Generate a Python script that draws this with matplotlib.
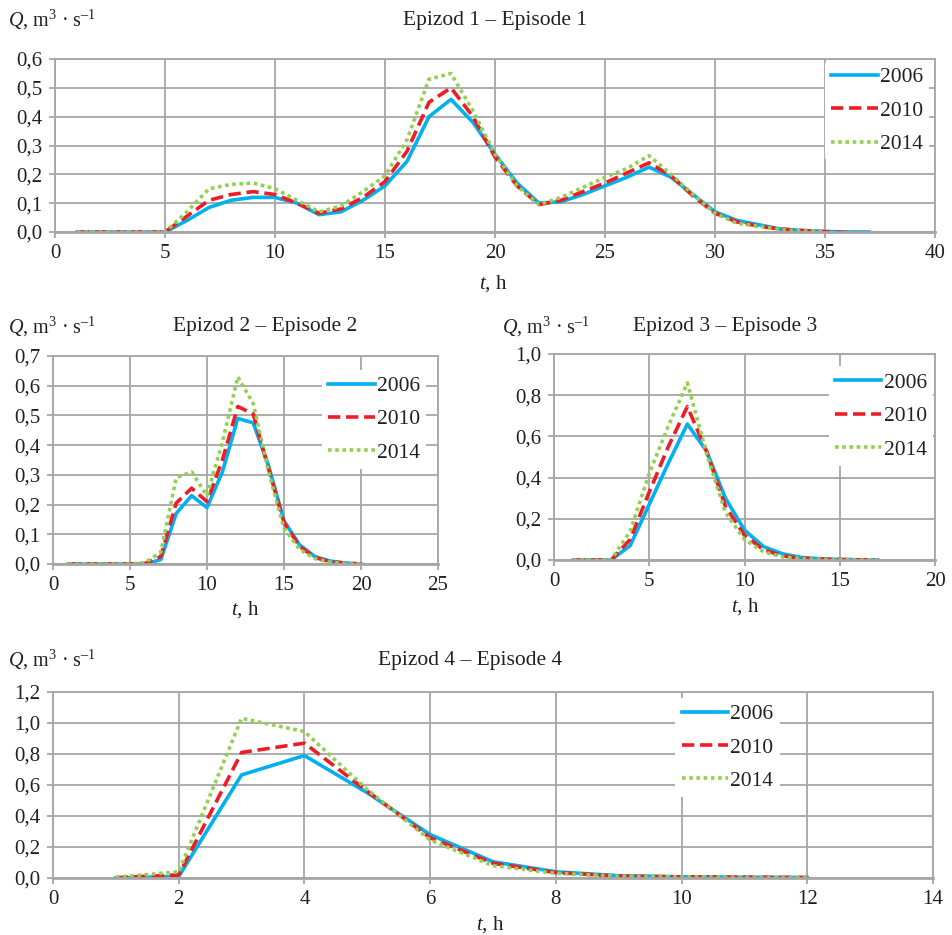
import matplotlib
matplotlib.use('Agg')
from matplotlib import pyplot as plt
import numpy as np

# Data
years = ['2006', '2010', '2014']

# Episode 1
ep1_t = list(range(1, 38))
ep1_2006 = [0, 0, 0, 0, 0, 0.04, 0.085, 0.11, 0.12, 0.12, 0.10, 0.06, 0.07, 0.11, 0.16,
            0.245, 0.40, 0.46, 0.38, 0.27, 0.17, 0.10, 0.105, 0.13, 0.16, 0.19, 0.225,
            0.19, 0.13, 0.07, 0.04, 0.025, 0.01, 0.005, 0.002, 0.0, 0.0]
ep1_2010 = [0, 0, 0, 0, 0, 0.055, 0.11, 0.13, 0.14, 0.13, 0.10, 0.065, 0.08, 0.12, 0.175,
            0.28, 0.45, 0.50, 0.40, 0.26, 0.16, 0.095, 0.11, 0.14, 0.17, 0.205, 0.24,
            0.195, 0.125, 0.065, 0.035, 0.02, 0.01, 0.005, 0.001, -0.002, -0.003]
ep1_2014 = [0, 0, 0, 0, 0, 0.07, 0.15, 0.165, 0.17, 0.15, 0.11, 0.07, 0.09, 0.14, 0.195,
            0.32, 0.53, 0.55, 0.42, 0.27, 0.16, 0.095, 0.12, 0.155, 0.19, 0.22, 0.265,
            0.20, 0.13, 0.065, 0.03, 0.02, 0.008, 0.003, 0.002]

# Episode 2
ep2_t = list(range(1, 21))
ep2_2006 = [0, 0, 0, 0, 0, 0, 0.015, 0.17, 0.23, 0.19, 0.31, 0.49, 0.475, 0.33, 0.145,
            0.065, 0.025, 0.01, 0.003, 0.0]
ep2_2010 = [0, 0, 0, 0, 0, 0.002, 0.025, 0.205, 0.255, 0.21, 0.35, 0.53, 0.505, 0.32, 0.14,
            0.06, 0.022, 0.008, 0.003, 0.0]
ep2_2014 = [0, 0, 0, 0, 0, 0.005, 0.04, 0.29, 0.31, 0.23, 0.41, 0.63, 0.54, 0.31, 0.12,
            0.05, 0.018, 0.006, 0.002, 0.0]

# Episode 3
ep3_t = list(range(1, 18))
ep3_2006 = [0, 0, 0, 0.07, 0.27, 0.47, 0.66, 0.53, 0.30, 0.145, 0.065, 0.03, 0.012, 0.006,
            0.003, 0.001, 0.0]
ep3_2010 = [0, 0, 0, 0.10, 0.33, 0.55, 0.745, 0.53, 0.26, 0.12, 0.05, 0.02, 0.008, 0.004,
            0.002, 0.001, 0.0]
ep3_2014 = [0, 0, 0, 0.14, 0.42, 0.65, 0.86, 0.52, 0.23, 0.10, 0.04, 0.015, 0.006, 0.003,
            0.001, 0.0, 0.0]

# Episode 4
ep4_t = list(range(1, 13))
ep4_2006 = [0.0, 0.01, 0.665, 0.79, 0.55, 0.28, 0.105, 0.04, 0.015, 0.008, 0.005, 0.003]
ep4_2010 = [0.002, 0.02, 0.81, 0.87, 0.56, 0.26, 0.095, 0.035, 0.012, 0.007, 0.005, 0.003]
ep4_2014 = [0.005, 0.04, 1.03, 0.945, 0.57, 0.245, 0.08, 0.03, 0.012, 0.007, 0.005, 0.003]

plt.rcParams['font.family'] = ['Liberation Serif', 'DejaVu Serif']
plt.rcParams['mathtext.fontset'] = 'custom'
plt.rcParams['mathtext.rm'] = 'Liberation Serif'
plt.rcParams['mathtext.it'] = 'Liberation Serif:italic'

colors = ['#00b0f0', '#ee1c25', '#92d050']
styles = [dict(linestyle='-'), dict(linestyle=(0, (3.4, 1.6))), dict(linestyle=(0, (1, 1)))]
grid_c = '#a6a6a6'
text_c = '#231f20'
FS = 15
ylab = r'$\mathit{Q}$, m$^3$ · s$^{–1}$'

fig = plt.figure(figsize=(9.52, 9.35), dpi=100)


def panel(rect, t, series, xlim, xstep, ylim, ystep, title_xy, title, ylab_xy, xlab_xy,
          leg_anchor):
    ax = fig.add_axes(rect)
    for i, s in enumerate(series):
        ax.plot(t[:len(s)], s, color=colors[i], lw=2.6, label=years[i], **styles[i])
    ax.set_xlim(*xlim)
    ax.set_ylim(*ylim)
    ax.set_xticks(np.arange(xlim[0], xlim[1] + 0.01, xstep))
    yt = np.arange(ylim[0], ylim[1] + 0.001, ystep)
    ax.set_yticks(yt)
    ax.set_yticklabels(['{:.1f}'.format(v).replace('.', ',') for v in yt])
    ax.grid(True, color=grid_c, lw=1.3)
    ax.set_axisbelow(True)
    for sp in ax.spines.values():
        sp.set_color(grid_c)
        sp.set_linewidth(1.3)
    ax.spines['bottom'].set_linewidth(2)
    ax.tick_params(colors=grid_c, labelcolor=text_c, labelsize=FS, length=4, width=1.3,
                   pad=5)
    leg = ax.legend(loc='upper right', bbox_to_anchor=leg_anchor, frameon=True,
                    fontsize=FS + 0.5, handlelength=2.15, handletextpad=0.1,
                    labelspacing=0.62, borderpad=0.3, borderaxespad=0.0)
    for txt in leg.get_texts():
        txt.set_color(text_c)
    leg.get_frame().set_edgecolor('none')
    leg.get_frame().set_facecolor('white')
    leg.get_frame().set_alpha(1)
    fig.text(title_xy[0] / 952, 1 - title_xy[1] / 935, title, ha='center', va='center',
             fontsize=FS + 0.5, color=text_c)
    fig.text(ylab_xy[0] / 952, 1 - ylab_xy[1] / 935, ylab, ha='left', va='center',
             fontsize=FS - 0.5, color=text_c)
    fig.text(xlab_xy[0] / 952, 1 - xlab_xy[1] / 935, r'$\mathit{t}$, h', ha='center',
             va='center', fontsize=FS, color=text_c)
    return ax


panel([55 / 952, 1 - 232 / 935, 880 / 952, 173 / 935], ep1_t,
      [ep1_2006, ep1_2010, ep1_2014], (0, 40), 5, (0, 0.6), 0.1,
      (495, 20), 'Epizod 1 – Episode 1', (8, 20), (493, 284), (0.9935, 0.99))

panel([53 / 952, 1 - 564 / 935, 385 / 952, 208 / 935], ep2_t,
      [ep2_2006, ep2_2010, ep2_2014], (0, 25), 5, (0, 0.7), 0.1,
      (265, 327), 'Epizod 2 – Episode 2', (8, 327), (245, 610), (0.97, 0.935))

panel([554 / 952, 1 - 560 / 935, 381 / 952, 206 / 935], ep3_t,
      [ep3_2006, ep3_2010, ep3_2014], (0, 20), 5, (0, 1.0), 0.2,
      (725, 327), 'Epizod 3 – Episode 3', (502, 327), (745, 607), (0.995, 0.94))

panel([53 / 952, 1 - 878 / 935, 880 / 952, 186 / 935], ep4_t,
      [ep4_2006, ep4_2010, ep4_2014], (0, 14), 2, (0, 1.2), 0.2,
      (470, 660), 'Epizod 4 – Episode 4', (8, 660), (490, 925), (0.826, 0.97))

fig.savefig('out.png', dpi=100)
